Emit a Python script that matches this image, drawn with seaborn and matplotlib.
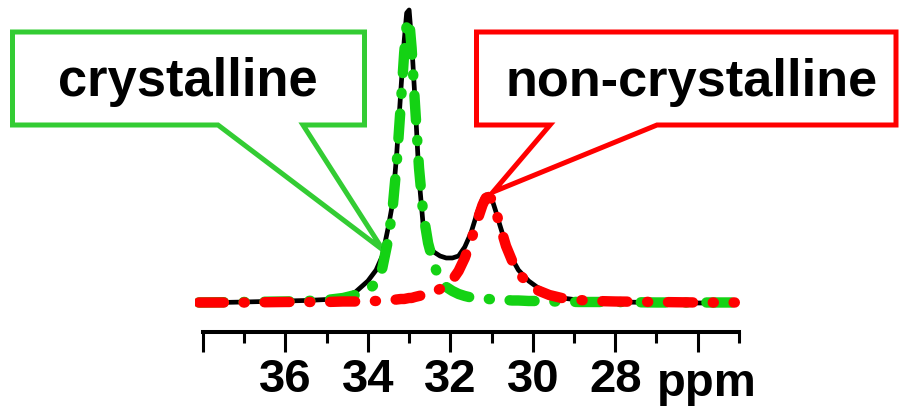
import matplotlib
matplotlib.use('Agg')
import matplotlib.pyplot as plt
import matplotlib.transforms as mtransforms
from matplotlib.patches import Polygon
from matplotlib.ticker import FixedLocator, FixedFormatter
import pandas as pd
import seaborn as sns

# chemical shift grid (ppm)
ppm = [38.1, 37.0, 36.0, 35.5, 35.0, 34.6, 34.3, 34.0, 33.8, 33.65, 33.5, 33.4,
       33.3, 33.2, 33.12, 33.06, 33.0, 32.94, 32.86, 32.76, 32.66, 32.54, 32.4,
       32.25, 32.1, 31.95, 31.8, 31.65, 31.5, 31.35, 31.22, 31.14, 31.07, 31.0,
       30.9, 30.8, 30.65, 30.5, 30.35, 30.1, 29.9, 29.6, 29.3, 28.9, 28.5, 28.0,
       27.0, 26.0, 25.1]

# measured spectrum (black)
total = [0, 1, 2, 2.5, 3.5, 6, 11, 22, 33, 47, 77, 100,
         150, 213, 262, 290, 293, 262, 205, 125, 78, 60, 51,
         47, 45, 45, 47, 56, 70, 90, 104, 108, 108, 105,
         92, 78, 58, 44, 33, 22, 16, 9, 5, 3, 2, 1,
         0.5, 0, 0]

# crystalline component (green)
crystalline = [0.5, 1, 1.5, 2, 3, 5, 8, 13, 20, 35, 65, 95,
               140, 200, 250, 278, 284, 255, 200, 135, 90, 60, 38,
               24, 16, 12, 9, 7, 5.5, 5, 4.5, 4, 4, 3.5,
               3.5, 3, 3, 2.5, 2.5, 2, 2, 1.5, 1.5, 1, 1, 1,
               0.5, 0.5, 0.5]

# non-crystalline component (red)
non_crystalline = [0.5, 0.5, 1, 1, 1, 1.5, 1.5, 2, 2, 2.5, 3, 3,
                   3.5, 4, 4, 4.5, 5, 5, 6, 7, 8, 9, 11,
                   14, 17, 23, 32, 45, 62, 82, 98, 105, 106, 104,
                   92, 78, 57, 42, 30, 19, 13, 8, 5, 3, 2, 1.5,
                   1, 0.5, 0.5]

major_ticks = [38, 36, 34, 32, 30, 28, 26]
major_labels = ['', '36', '34', '32', '30', '28', '']
minor_ticks = [37, 35, 33, 31, 29, 27, 25]

df = pd.DataFrame({'ppm': ppm, 'total': total,
                   'crystalline': crystalline, 'non_crystalline': non_crystalline})

sns.set_style('white')
plt.rcParams['font.family'] = ['Liberation Sans', 'DejaVu Sans']
plt.rcParams['font.weight'] = 'bold'

fig = plt.figure(figsize=(9, 4.08), dpi=100)
ax = fig.add_axes([0.2164, 0.1863, 0.6092, 0.8064])
ax.set_facecolor('none')

dashdot = (0, (2.4, 1.9, 0.1, 1.9))
sns.lineplot(data=df, x='ppm', y='total', ax=ax, color='black',
             estimator=None, sort=False, zorder=2)
sns.lineplot(data=df, x='ppm', y='crystalline', ax=ax, color='#14d214',
             estimator=None, sort=False, zorder=3)
sns.lineplot(data=df, x='ppm', y='non_crystalline', ax=ax, color='#ff0000',
             estimator=None, sort=False, zorder=4)
black_line, green_line, red_line = ax.lines[:3]
black_line.set_linewidth(3.4)
for ln in (green_line, red_line):
    ln.set_linewidth(7.5)
    ln.set_linestyle(dashdot)
    ln.set_dash_capstyle('round')

ax.set_xlim(38.2, 24.9)
ax.set_ylim(-29, 300)
for side in ['left', 'right', 'top']:
    ax.spines[side].set_visible(False)
ax.spines['bottom'].set_linewidth(2.9)
ax.spines['bottom'].set_color('black')
ax.spines['bottom'].set_bounds(38, 25)
ax.set_yticks([])
ax.set_xlabel('')
ax.set_ylabel('')
ax.xaxis.set_major_locator(FixedLocator(major_ticks))
ax.xaxis.set_major_formatter(FixedFormatter(major_labels))
ax.xaxis.set_minor_locator(FixedLocator(minor_ticks))
ax.tick_params(axis='x', which='major', direction='out', length=14.4, width=2.2,
               color='black', labelcolor='black', labelsize=34, pad=4, bottom=True)
ax.tick_params(axis='x', which='minor', direction='out', length=8, width=2.2,
               color='black', bottom=True)
for lab in ax.get_xticklabels():
    lab.set_fontweight('bold')

# callout boxes, figure pixel coordinates measured from the top-left
px = mtransforms.Affine2D().scale(1 / 900, -1 / 408).translate(0, 1) + fig.transFigure
green_box = [(12.5, 32), (364.5, 32), (364.5, 125), (303, 125), (383, 250),
             (218, 125), (12.5, 125)]
red_box = [(476.5, 32), (896, 32), (896, 125), (657, 125), (493, 192),
           (550, 125), (476.5, 125)]
for pts, col in [(green_box, '#33cc33'), (red_box, '#ff0000')]:
    fig.add_artist(Polygon(pts, closed=True, transform=px, facecolor='white',
                           edgecolor=col, linewidth=3.6, joinstyle='miter', zorder=-1))

fig.text(188, 96, 'crystalline', transform=px, ha='center', va='baseline',
         fontsize=37.8, fontweight='bold', color='black')
fig.text(691.5, 96, 'non-crystalline', transform=px, ha='center', va='baseline',
         fontsize=37.7, fontweight='bold', color='black')
fig.text(707, 396, 'ppm', transform=px, ha='center', va='baseline',
         fontsize=34, fontweight='bold', color='black')

fig.savefig('out.png', dpi=100)
plt.close(fig)
